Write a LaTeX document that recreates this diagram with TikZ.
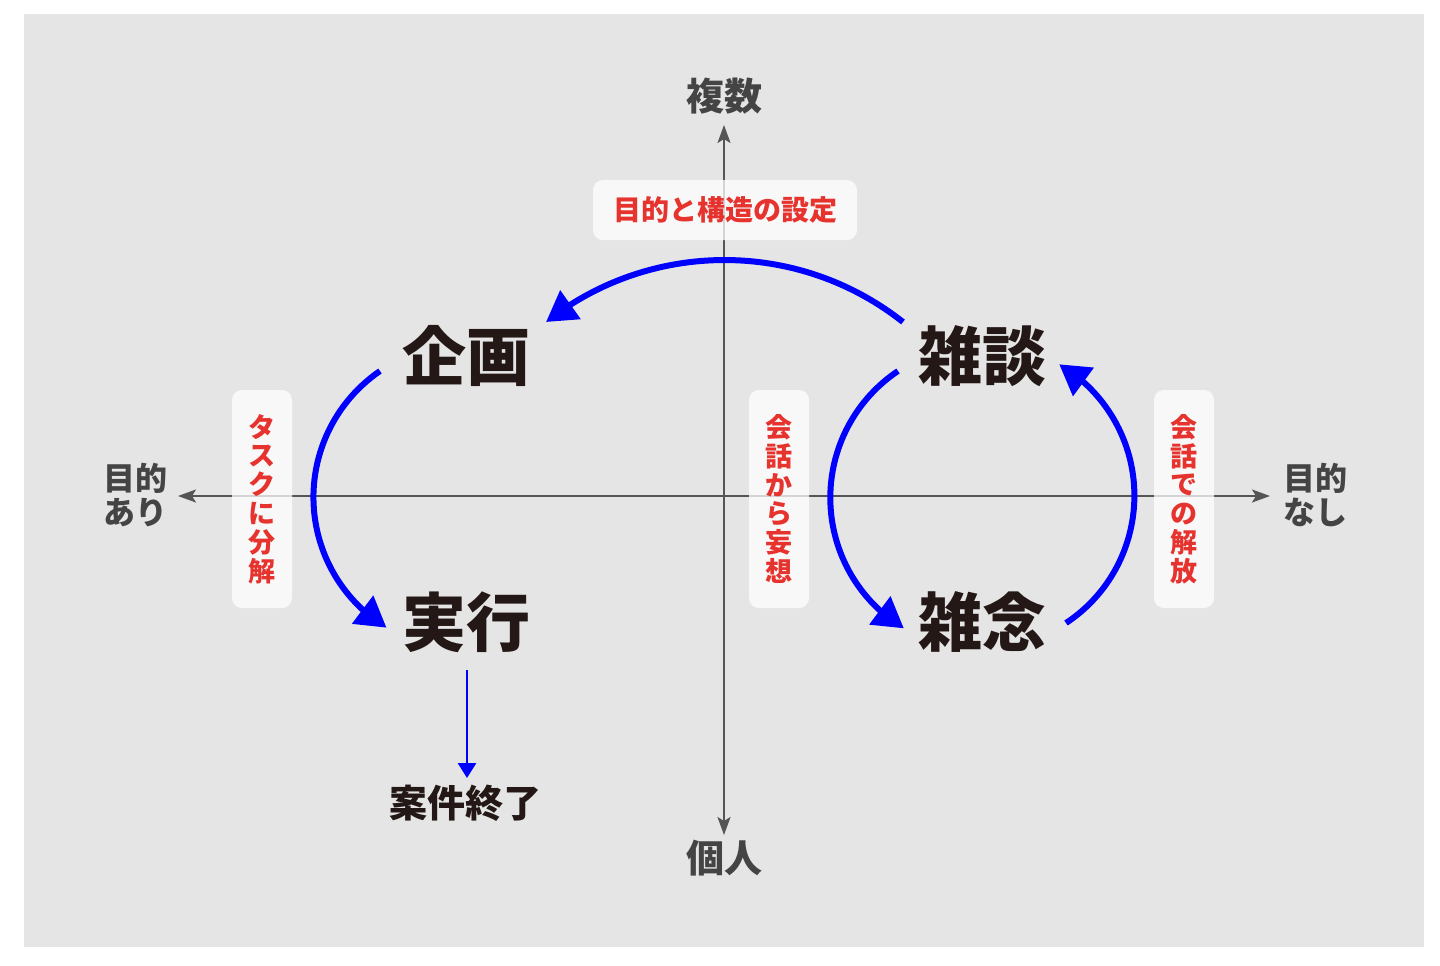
\documentclass[tikz,border=0pt]{standalone}
\usepackage{fontspec}
\newfontfamily\jp{Noto Sans CJK JP}
\usetikzlibrary{arrows.meta,bending}
\definecolor{bg}{HTML}{E5E5E5}
\definecolor{ink}{HTML}{231815}
\definecolor{axgray}{HTML}{555555}
\definecolor{lblgray}{HTML}{444444}
\definecolor{redtxt}{HTML}{E6332E}
\definecolor{arcblue}{HTML}{0000FF}
\tikzset{
  axisline/.style={draw=axgray, line width=1.1pt, {Stealth[length=9pt,width=6.5pt,inset=2pt]}-{Stealth[length=9pt,width=6.5pt,inset=2pt]}},
  mainlbl/.style={text=ink, font=\jp\bfseries\fontsize{32}{36}\selectfont, inner sep=0pt},
  endlbl/.style={text=ink, font=\jp\bfseries\fontsize{19}{22}\selectfont, inner sep=0pt},
  axlbl/.style={text=lblgray, font=\jp\bfseries\fontsize{19}{22}\selectfont, inner sep=0pt},
  sidelbl/.style={text=lblgray, font=\jp\bfseries\fontsize{16}{17}\selectfont, inner sep=0pt, align=center},
  tagbox/.style={fill=white, fill opacity=0.75, text opacity=1, rounded corners=5pt, text=redtxt, inner sep=0pt, align=center},
  vtag/.style={tagbox, minimum width=30pt, minimum height=109pt, font=\jp\bfseries\fontsize{13.5}{14.4}\selectfont},
  htag/.style={tagbox, minimum width=132pt, minimum height=30pt, font=\jp\bfseries\fontsize{14}{16}\selectfont},
  bluearc/.style={draw=arcblue, line width=3pt, -{Triangle[length=15pt,width=17pt]}},
  bluedown/.style={draw=arcblue, line width=1.4pt, -{Triangle[length=7.5pt,width=9pt]}}
}
\begin{document}
\begin{tikzpicture}[x=0.5pt,y=-0.5pt]
\useasboundingbox (0,0) rectangle (1440,965);
\fill[white] (0,0) rectangle (1440,965);
\fill[bg] (24,14) rectangle (1424,947);

% axes
\coordinate (axL) at (178,496);
\coordinate (axR) at (1270,496);
\coordinate (axT) at (724,125);
\coordinate (axB) at (724,835);
\draw[axisline] (axL) -- (axR);
\draw[axisline] (axB) -- (axT);

% axis labels
\node[axlbl] (many) at (724,96) {複数};
\node[axlbl] (single) at (724,858) {個人};
\node[sidelbl] (purp) at (135,495) {目的\\あり};
\node[sidelbl] (nopurp) at (1315,495) {目的\\なし};

% blue arcs
\coordinate (topS) at (903,322);
\draw[bluearc] (topS) arc[start angle=51.7, end angle=128.3, radius=144pt];
\coordinate (leftS) at (380,371);
\draw[bluearc] (leftS) arc[start angle=124.4, end angle=238.5, radius=76.5pt];
\coordinate (inS) at (898,371);
\draw[bluearc] (inS) arc[start angle=123.8, end angle=238.8, radius=76.3pt];
\coordinate (outS) at (1066,623);
\draw[bluearc] (outS) arc[start angle=-56.5, end angle=59.5, radius=76.3pt];

% tags
\node[htag] (settag) at (725,210) {目的と構造の設定};
\node[vtag] (tasktag) at (262,499) {タ\\ス\\ク\\に\\分\\解};
\node[vtag] (dreamtag) at (779,499) {会\\話\\か\\ら\\妄\\想};
\node[vtag] (freetag) at (1184,499) {会\\話\\で\\の\\解\\放};

% main labels
\node[mainlbl] (kikaku) at (466,356) {企画};
\node[mainlbl] (jikko) at (466,622) {実行};
\node[mainlbl] (zatsudan) at (982,356) {雑談};
\node[mainlbl] (zatsunen) at (982,622) {雑念};
\node[endlbl] (anken) at (465,803) {案件終了};

% end arrow
\coordinate (dnS) at (467,670);
\coordinate (dnE) at (467,778);
\draw[bluedown] (dnS) -- (dnE);
\end{tikzpicture}
\end{document}
